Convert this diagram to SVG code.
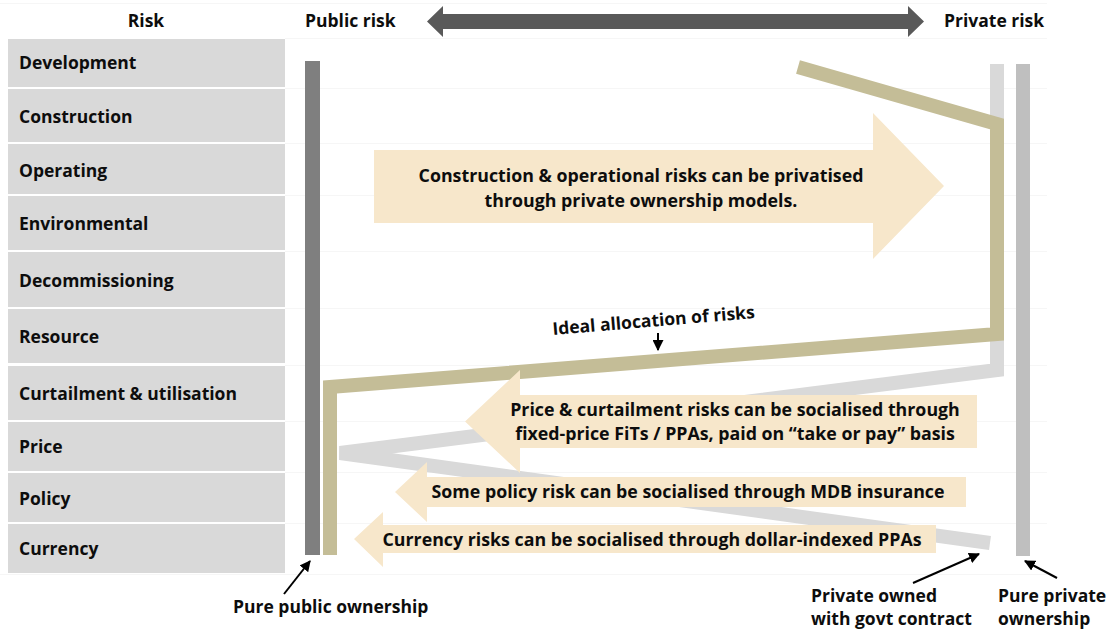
<svg xmlns="http://www.w3.org/2000/svg" width="1112" height="634" viewBox="0 0 1112 634">
<defs>
<style>
.t{font-family:"Open Sans","Liberation Sans",sans-serif;font-weight:700;fill:#0d0d0d}
.lbl{font-size:17.5px}
.call{font-size:17.8px;text-anchor:middle}
.ann{font-size:17.5px}
.row{fill:#d9d9d9}
.grid{stroke:#f6f6f6;stroke-width:1}
.callout{fill:#f7e7cb}
.ptr{stroke:#000;stroke-width:2;fill:none;marker-end:url(#ah)}
</style>
<marker id="ah" viewBox="0 0 10 10" refX="9" refY="5" markerWidth="5.5" markerHeight="5.5" orient="auto" markerUnits="strokeWidth">
<path d="M0,0 L10,5 L0,10 z" fill="#000"/>
</marker>
</defs>
<rect width="1112" height="634" fill="#fff"/>
<g id="gridlines">
<line class="grid" x1="0" y1="3.5" x2="1047" y2="3.5"/>
<line class="grid" x1="285" y1="38.5" x2="1047" y2="38.5"/>
<line class="grid" x1="285" y1="88.5" x2="1047" y2="88.5"/>
<line class="grid" x1="285" y1="143.5" x2="1047" y2="143.5"/>
<line class="grid" x1="285" y1="195.5" x2="1047" y2="195.5"/>
<line class="grid" x1="285" y1="251.5" x2="1047" y2="251.5"/>
<line class="grid" x1="285" y1="308.5" x2="1047" y2="308.5"/>
<line class="grid" x1="285" y1="365.5" x2="1047" y2="365.5"/>
<line class="grid" x1="285" y1="421.5" x2="1047" y2="421.5"/>
<line class="grid" x1="285" y1="472.5" x2="1047" y2="472.5"/>
<line class="grid" x1="285" y1="523.5" x2="1047" y2="523.5"/>
<line class="grid" x1="0" y1="574.5" x2="1047" y2="574.5"/>
</g>
<g id="header">
<text class="t lbl" x="146" y="27" text-anchor="middle">Risk</text>
<text class="t lbl" x="305" y="27">Public risk</text>
<text class="t lbl" x="944" y="27">Private risk</text>
<polygon id="scale-arrow" points="427,21.5 443,6 443,14 908,14 908,6 924,21.5 908,37 908,29 443,29 443,37" fill="#595959"/>
</g>
<g id="risk-development"><rect class="row" x="8" y="39" width="277" height="48"/><text class="t lbl" x="19" y="69">Development</text></g>
<g id="risk-construction"><rect class="row" x="8" y="89" width="277" height="53"/><text class="t lbl" x="19" y="123">Construction</text></g>
<g id="risk-operating"><rect class="row" x="8" y="144" width="277" height="50"/><text class="t lbl" x="19" y="177">Operating</text></g>
<g id="risk-environmental"><rect class="row" x="8" y="196" width="277" height="54"/><text class="t lbl" x="19" y="230">Environmental</text></g>
<g id="risk-decommissioning"><rect class="row" x="8" y="252" width="277" height="55"/><text class="t lbl" x="19" y="287">Decommissioning</text></g>
<g id="risk-resource"><rect class="row" x="8" y="309" width="277" height="54"/><text class="t lbl" x="19" y="343">Resource</text></g>
<g id="risk-curtailment"><rect class="row" x="8" y="366" width="277" height="54"/><text class="t lbl" x="19" y="400">Curtailment &amp; utilisation</text></g>
<g id="risk-price"><rect class="row" x="8" y="422" width="277" height="49"/><text class="t lbl" x="19" y="453">Price</text></g>
<g id="risk-policy"><rect class="row" x="8" y="473" width="277" height="49"/><text class="t lbl" x="19" y="505">Policy</text></g>
<g id="risk-currency"><rect class="row" x="8" y="524" width="277" height="49"/><text class="t lbl" x="19" y="555">Currency</text></g>
<g id="govt-contract-line">
<path d="M997,64 L997,370 L340,453 L990,543" fill="none" stroke="#d9d9d9" stroke-width="14" stroke-linejoin="miter"/>
</g>
<g id="ideal-allocation-line">
<path d="M798,67 L997,124 L997,334 L330,387 L330,555" fill="none" stroke="#c4bd97" stroke-width="14" stroke-linejoin="miter" stroke-miterlimit="10"/>
</g>
<g id="public-ownership-bar"><rect x="305" y="61" width="15" height="494" fill="#7f7f7f"/></g>
<g id="private-ownership-bar"><rect x="1016" y="64" width="14" height="492" fill="#bfbfbf"/></g>
<g id="callout-privatise">
<polygon class="callout" points="374,150 873,150 873,113 944,186 873,259 873,223 374,223"/>
<text class="t call" x="641" y="182">Construction &amp; operational risks can be privatised</text>
<text class="t call" x="641" y="207">through private ownership models.</text>
</g>
<g id="callout-price">
<polygon class="callout" points="465,421.5 520,370 520,395 977,395 977,448 520,448 520,473"/>
<text class="t call" x="735" y="416">Price &amp; curtailment risks can be socialised through</text>
<text class="t call" x="735" y="440">fixed-price FiTs / PPAs, paid on “take or pay” basis</text>
</g>
<g id="callout-policy">
<polygon class="callout" points="395,492 427,462 427,477 966,477 966,507 427,507 427,522"/>
<text class="t call" x="688" y="498">Some policy risk can be socialised through MDB insurance</text>
</g>
<g id="callout-currency">
<polygon class="callout" points="354,539 383,512 383,525 936,525 936,553 383,553 383,567"/>
<text class="t call" x="652" y="546">Currency risks can be socialised through dollar-indexed PPAs</text>
</g>
<g id="label-ideal">
<text class="t ann" x="654" y="326.5" text-anchor="middle" transform="rotate(-4.8 654 326.5)">Ideal allocation of risks</text>
</g>
<g id="label-public"><text class="t ann" x="233" y="613">Pure public ownership</text></g>
<g id="label-govt"><text class="t ann" x="811" y="602">Private owned</text><text class="t ann" x="811" y="625">with govt contract</text></g>
<g id="label-private"><text class="t ann" x="998" y="602">Pure private</text><text class="t ann" x="998" y="625">ownership</text></g>
<g id="connectors">
<line class="ptr" x1="658" y1="333" x2="658" y2="350"/>
<line class="ptr" x1="284" y1="594" x2="310" y2="561"/>
<line class="ptr" x1="913" y1="583" x2="979" y2="554"/>
<line class="ptr" x1="1057" y1="578" x2="1025" y2="561"/>
</g>
</svg>
